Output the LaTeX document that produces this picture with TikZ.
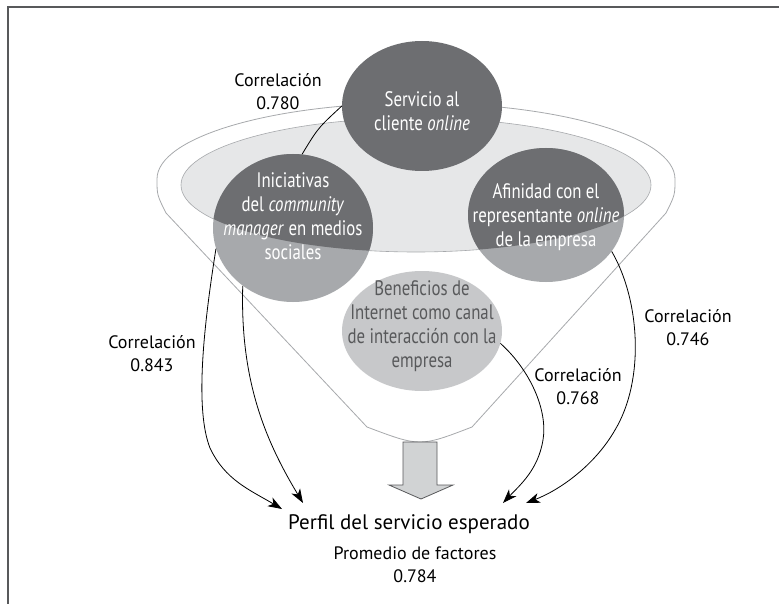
\documentclass[tikz,border=0pt]{standalone}
\usepackage{fontspec}
\setmainfont{PT Sans}
\newfontfamily\condfont[FakeStretch=0.8]{PT Sans}
\usetikzlibrary{arrows.meta,shapes.geometric}
\definecolor{darkfill}{HTML}{6D6E71}
\definecolor{midfill}{HTML}{A7A9AC}
\definecolor{lightfill}{HTML}{C7C8CA}
\definecolor{rimfill}{HTML}{E6E7E8}
\definecolor{rimline}{HTML}{A7A9AC}
\definecolor{softtext}{HTML}{58595B}
\definecolor{framec}{HTML}{58595B}
\definecolor{boxfill}{HTML}{D1D3D4}

\begin{document}
\begin{tikzpicture}[x=1pt, y=-1pt,
  bubble/.style={ellipse, inner sep=0pt, draw=none},
  bubbletext/.style={align=center, text=white, font=\condfont\fontsize{21}{24}\selectfont},
  corr/.style={align=center, font=\fontsize{18}{23}\selectfont},
  link/.style={black, line width=0.8pt},
  arr/.style={link, -{Stealth[length=14pt, width=10pt, inset=4pt]}}]
\useasboundingbox (0,0) rectangle (779,604);
\draw[framec, line width=1.5pt] (8,604) -- (8,7) -- (779,7);

% funnel and its rim
\draw[rimline, fill=white, line width=0.8pt] (157,179) arc[start angle=180, end angle=360, x radius=259, y radius=76]
   .. controls (675,195) .. (666,213) -- (472,427) .. controls (420,447) .. (367,427) -- (166,213) .. controls (157,195) .. cycle;
\draw[rimline, fill=rimfill, line width=0.6pt] (416,185) ellipse [x radius=235, y radius=67];

% factors
\node[bubble, fill=midfill, minimum width=160pt, minimum height=148pt] (inic) at (293,228) {};
\node[bubble, fill=midfill, minimum width=156pt, minimum height=134pt] (afin) at (546,215) {};
\begin{scope}
  \clip (416,185) ellipse [x radius=235, y radius=67];
  \fill[darkfill] (293,228) ellipse [x radius=80, y radius=74];
  \fill[darkfill] (546,215) ellipse [x radius=78, y radius=67];
\end{scope}
\node[bubble, fill=darkfill, minimum width=160pt, minimum height=130pt] (serv) at (422,106) {};
\node[bubble, fill=lightfill, minimum width=160pt, minimum height=120pt] (benef) at (422,331) {};

\node[bubbletext] at (422,111) {Servicio al\\cliente \textit{online}};
\node[bubbletext] at (293,216) {Iniciativas\\del \textit{community}\\\textit{manager} en medios\\sociales};
\node[bubbletext] at (546,217) {Afinidad con el\\representante \textit{online}\\de la empresa};
\node[bubbletext, text=softtext] at (422,326) {Beneficios de\\Internet como canal\\de interacción con la\\empresa};

% result
\draw[framec, fill=boxfill, line width=0.8pt] (403,442) -- (437,442) -- (437,485) -- (453,485) -- (421,499) -- (389,485) -- (403,485) -- cycle;
\node[font=\fontsize{21}{25}\selectfont] (perfil) at (409,524) {Perfil del servicio esperado};
\node[corr] (prom) at (415,565) {Promedio de factores\\0.784};

\coordinate (tipA) at (282,509);
\coordinate (tipB) at (303,503);
\coordinate (tipC) at (503,503);
\coordinate (tipD) at (526,503);

% correlations
\node[corr] (c780) at (278,92) {Correlación\\0.780};
\node[corr] (c843) at (152,354) {Correlación\\0.843};
\node[corr] (c768) at (578,387) {Correlación\\0.768};
\node[corr] (c746) at (688,328) {Correlación\\0.746};

\draw[link] (inic.83) .. controls (318,128) .. (serv.180);
\draw[arr] (inic.195) .. controls (203,330) and (195,410) .. (210,448) .. controls (225,480) and (250,490) .. (tipA);
\draw[arr] (inic.229) .. controls (240,380) and (265,440) .. (tipB);
\draw[arr] (benef.351) .. controls (530,370) and (548,410) .. (543,440) .. controls (538,470) and (520,485) .. (tipC);
\draw[arr] (afin.331) .. controls (640,300) and (645,380) .. (615,430) .. controls (595,465) and (560,490) .. (tipD);
\end{tikzpicture}
\end{document}
